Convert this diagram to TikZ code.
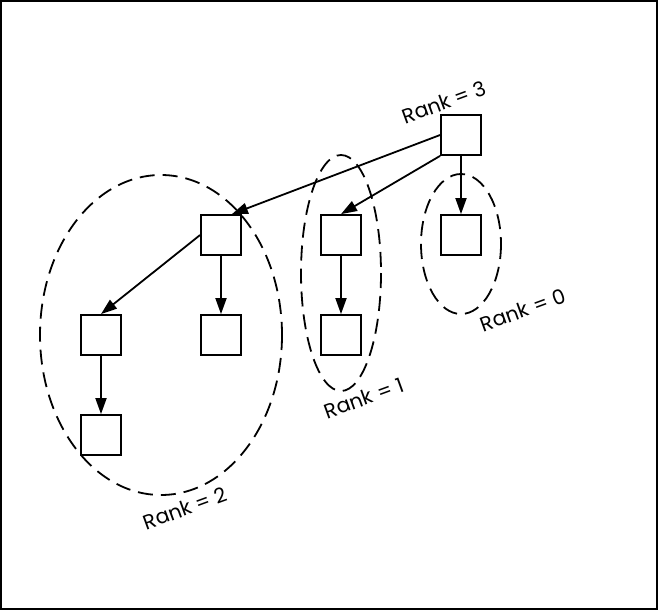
\documentclass[tikz,border=0pt]{standalone}
\usepackage{fontspec}
\setmainfont{Poppins}
\usetikzlibrary{arrows.meta,positioning}

\begin{document}
\begin{tikzpicture}[x=1pt, y=-1pt, node distance=100pt, box/.style={rectangle, draw, line width=1.8pt, minimum size=40pt, inner sep=0pt}, arr/.style={line width=1.8pt, -{Triangle[length=16pt, width=11pt]}}, group/.style={dashed, line width=1.8pt, dash pattern=on 15pt off 8pt}, ranklabel/.style={font=\fontsize{20.5}{22}\selectfont, rotate=20, inner sep=0pt}]

  \useasboundingbox (0,0) rectangle (658,610);
  \draw[line width=2pt] (1,1) rectangle (657,609);

  \node[box] (root) at (461,135) {};
  \node[box, below of=root] (r0) {};
  \node[box, left of=r0, node distance=120pt] (r1a) {};
  \node[box, below of=r1a] (r1b) {};
  \node[box, left of=r1a, node distance=120pt] (r2a) {};
  \node[box, below of=r2a] (r2c) {};
  \node[box, left of=r2c, node distance=120pt] (r2b) {};
  \node[box, below of=r2b] (r2d) {};

  \draw[group] (461,244) ellipse [x radius=40, y radius=70];
  \draw[group] (341,273) ellipse [x radius=40, y radius=118];
  \draw[group] (161,335) ellipse [x radius=121, y radius=160];

  \node[ranklabel] (lbl3) at (444,102) {Rank = 3};
  \node[ranklabel] (lbl0) at (523,310) {Rank = 0};
  \node[ranklabel] (lbl1) at (364,398) {Rank = 1};
  \node[ranklabel] (lbl2) at (185,508) {Rank = 2};

  \draw[arr] (root.west) -- ([xshift=-10pt]r2a.north east);
  \draw[arr] (root.south west) -- (r1a.north);
  \draw[arr] (root) -- (r0);
  \draw[arr] (r2a.west) -- (r2b.north);
  \draw[arr] (r2a) -- (r2c);
  \draw[arr] (r2b) -- (r2d);
  \draw[arr] (r1a) -- (r1b);
\end{tikzpicture}
\end{document}
